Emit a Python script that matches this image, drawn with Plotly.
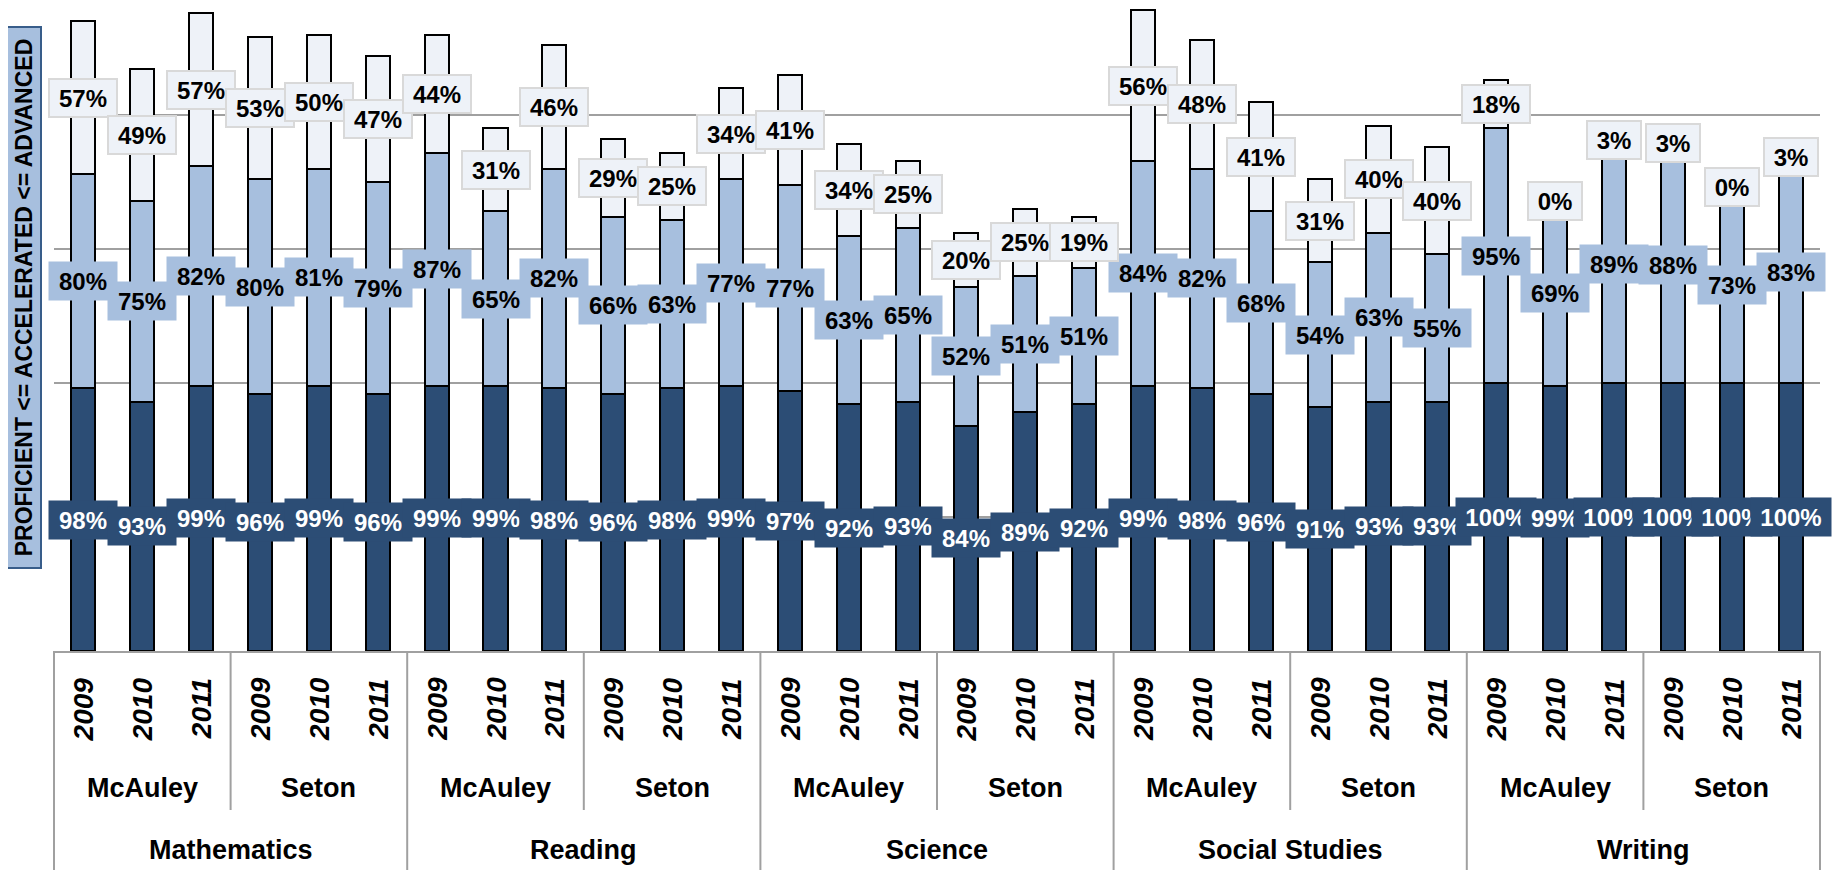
import plotly.graph_objects as go

subjects = ["Mathematics", "Reading", "Science", "Social Studies", "Writing"]
schools = ["McAuley", "Seton"]
years = ["2009", "2010", "2011"]

# values per bar, order: subject -> school -> year
proficient = [98, 93, 99, 96, 99, 96,
              99, 99, 98, 96, 98, 99,
              97, 92, 93, 84, 89, 92,
              99, 98, 96, 91, 93, 93,
              100, 99, 100, 100, 100, 100]
accelerated = [80, 75, 82, 80, 81, 79,
               87, 65, 82, 66, 63, 77,
               77, 63, 65, 52, 51, 51,
               84, 82, 68, 54, 63, 55,
               95, 69, 89, 88, 73, 83]
advanced = [57, 49, 57, 53, 50, 47,
            44, 31, 46, 29, 25, 34,
            41, 34, 25, 20, 25, 19,
            56, 48, 41, 31, 40, 40,
            18, 0, 3, 3, 0, 3]

y_title = "PROFICIENT <= ACCELERATED <= ADVANCED"

DARK = "#2c4d75"
LIGHT = "#a7bfde"
PALE = "#eef2f8"
GRID = "#a0a0a0"
FONT = "Liberation Sans, Arial, sans-serif"

# page has an 8px body margin; figure coordinates are shifted accordingly
OFF = 8
W, H = 1843, 870
PLOT_L = 54 - OFF
PLOT_R = 1820 - OFF
PLOT_B = 651 - OFF
PX_PER_UNIT = 2.68

n = len(proficient)
xs = list(range(n))

fig = go.Figure()
for vals, col, name in [(proficient, DARK, "Proficient"),
                        (accelerated, LIGHT, "Accelerated"),
                        (advanced, PALE, "Advanced")]:
    fig.add_trace(go.Bar(x=xs, y=vals, name=name,
                         marker=dict(color=col, line=dict(color="#000000", width=2)),
                         hoverinfo="y"))

annotations = []
shapes = []


def label_width(t):
    return {2: 46, 3: 60, 4: 72}.get(len(t), 60)


def lab(x, y, t, color, bg, **kw):
    d = dict(x=x, y=y, xref="x", yref="y", text=f"<b>{t}</b>", showarrow=False,
             xanchor="center", yanchor="middle",
             font=dict(family=FONT, size=24, color=color), bgcolor=bg,
             width=label_width(t), height=30, borderpad=4)
    d.update(kw)
    return d


for i in xs:
    p = proficient[i]
    annotations.append(lab(i, p / 2, f"{p}%", "white", DARK))
for i in xs:
    p, a = proficient[i], accelerated[i]
    annotations.append(lab(i, p + a / 2, f"{a}%", "black", LIGHT))
for i in xs:
    p, a, d = proficient[i], accelerated[i], advanced[i]
    t = f"{d}%"
    annotations.append(lab(i, p + a + d / 2, t, "black", PALE, bordercolor="#d9d9d9", borderwidth=2,
                           width=label_width(t) - 2, height=28))

# multi-level category table
plot_h = float(PLOT_B)


def py(page_y):
    return (plot_h - (page_y - OFF)) / plot_h


y_year = py(709)
y_school = py(788)
y_subject = py(850)
y_bottom = py(H + 10)
y_school_end = py(810)

nsub = len(subjects)
nsch = len(schools)
i = 0
for si, s in enumerate(subjects):
    for ci, c in enumerate(schools):
        for yi, yr in enumerate(years):
            annotations.append(dict(x=i, y=y_year, xref="x", yref="paper", text=yr,
                                    showarrow=False, textangle=-90, xanchor="center", yanchor="middle",
                                    font=dict(family=FONT, size=28, color="black",
                                              weight="bold", style="italic")))
            i += 1
        gidx = si * nsch + ci
        annotations.append(dict(x=(gidx + 0.5) / (nsub * nsch), y=y_school, xref="paper", yref="paper",
                                text=f"<b>{c}</b>", showarrow=False, xanchor="center", yanchor="middle",
                                font=dict(family=FONT, size=27, color="black")))
        if ci > 0:
            xp = gidx / (nsub * nsch)
            shapes.append(dict(type="line", xref="paper", yref="paper", x0=xp, x1=xp, y0=0, y1=y_school_end,
                               line=dict(color=GRID, width=2)))
    annotations.append(dict(x=(si + 0.5) / nsub, y=y_subject, xref="paper", yref="paper",
                            text=f"<b>{s}</b>", showarrow=False, xanchor="center", yanchor="middle",
                            font=dict(family=FONT, size=27, color="black")))

for k in range(nsub + 1):
    xp = k / nsub
    shapes.append(dict(type="line", xref="paper", yref="paper", x0=xp, x1=xp, y0=0, y1=y_bottom,
                       line=dict(color=GRID, width=2)))

# y axis title box
plot_w = float(PLOT_R - PLOT_L)
annotations.append(dict(x=(24 - OFF - PLOT_L) / plot_w, y=py(298), xref="paper", yref="paper",
                        text=f"<b>{y_title}</b>", showarrow=False, textangle=-90,
                        xanchor="center", yanchor="middle",
                        font=dict(family=FONT, size=23, color="black"), bgcolor=LIGHT,
                        bordercolor="#385d8a", borderwidth=2, width=531, height=24, borderpad=4))

fig.update_layout(
    width=W, height=H,
    margin=dict(l=PLOT_L, r=W - PLOT_R, t=0, b=H - PLOT_B, autoexpand=False),
    barmode="stack", bargap=0.592,
    showlegend=False,
    plot_bgcolor="white", paper_bgcolor="white",
    xaxis=dict(range=[-0.5, n - 0.5], showticklabels=False, ticks="", showgrid=False,
               showline=True, linecolor=GRID, linewidth=2, zeroline=False, fixedrange=True),
    yaxis=dict(range=[0, plot_h / PX_PER_UNIT], dtick=50, showticklabels=False, ticks="", showgrid=True,
               gridcolor=GRID, gridwidth=2, zeroline=False, showline=False, fixedrange=True),
    annotations=annotations, shapes=shapes,
)

fig.write_html("out.html")
